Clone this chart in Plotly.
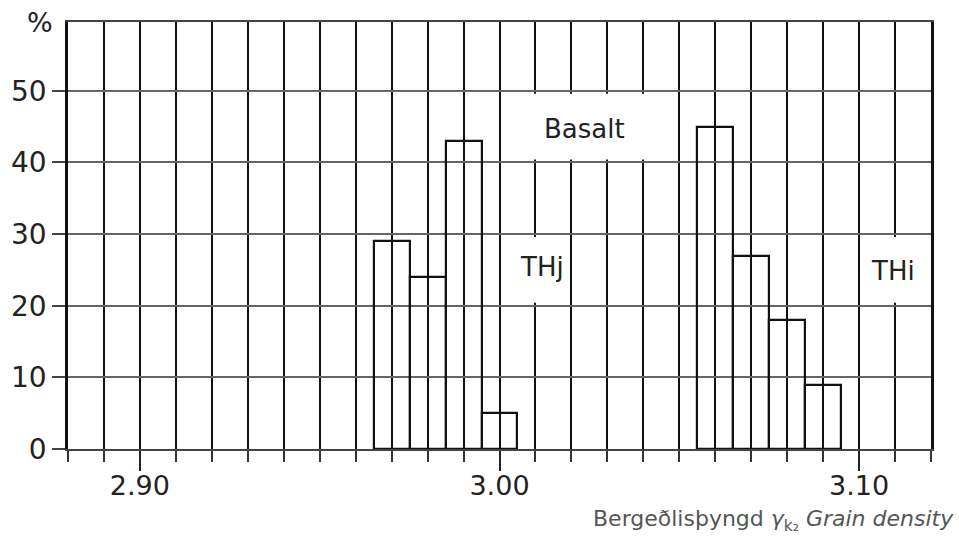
import plotly.graph_objects as go

# Data
thj_x = [2.97, 2.98, 2.99, 3.00]
thj_pct = [29, 24, 43, 5]
thi_x = [3.06, 3.07, 3.08, 3.09]
thi_pct = [45, 27, 18, 9]
bin_width = 0.01

x_tickvals = [2.90, 3.00, 3.10]
x_ticktext = ["2.90", "3.00", "3.10"]
y_tickvals = [0, 10, 20, 30, 40, 50]
y_ticktext = ["0", "10", "20", "30", "40", "50"]

labels = ["Basalt", "THj", "THi"]
label_x = [3.0235, 3.0119, 3.1094]
label_y = [44.6, 25.4, 24.8]
# label boxes (white cut-outs in the grid): x0, x1, y0, y1
label_boxes = [(3.00, 3.05, 40, 50), (3.00, 3.02, 20, 30), (3.10, 3.12, 20, 30)]

FONT = "DejaVu Sans"

fig = go.Figure()
for xs, ys, name in [(thj_x, thj_pct, "THj"), (thi_x, thi_pct, "THi")]:
    fig.add_trace(go.Bar(
        x=xs, y=ys, width=[bin_width] * len(xs), name=name,
        marker=dict(color="rgba(0,0,0,0)", line=dict(color="#111", width=2.2)),
        showlegend=False, hoverinfo="x+y",
    ))

ex, ey = 0.0009, 0.4
for (x0, x1, y0, y1) in label_boxes:
    fig.add_shape(type="rect", xref="x", yref="y", x0=x0 + ex, x1=x1 - ex,
                  y0=y0 + ey, y1=y1 - ey, fillcolor="white",
                  line=dict(width=0), layer="above")

for t, lx, ly in zip(labels, label_x, label_y):
    fig.add_annotation(x=lx, y=ly, xref="x", yref="y", text=t, showarrow=False,
                       font=dict(family=FONT, size=26, color="#222"))

fig.add_annotation(x=-28 / 863, y=0.998, xref="paper", yref="paper", text="%",
                   showarrow=False, xanchor="center", yanchor="middle",
                   font=dict(family=FONT, size=27, color="#222"))

fig.add_annotation(x=1.0 + 25 / 863, y=-0.168, xref="paper", yref="paper",
                   text="Bergeðlisþyngd <i>γ</i><sub>k₂</sub> <i>Grain density</i>",
                   showarrow=False, xanchor="right", yanchor="middle",
                   font=dict(family=FONT, size=22, color="#555"))

fig.update_layout(
    width=959, height=554,
    margin=dict(l=68, r=28, t=22, b=105),
    paper_bgcolor="white", plot_bgcolor="white",
    bargap=0,
    xaxis=dict(
        range=[2.88, 3.12], tickvals=x_tickvals, ticktext=x_ticktext,
        ticks="outside", ticklen=20, tickwidth=2, tickcolor="#222",
        ticklabelstandoff=-8,
        showgrid=True, gridcolor="#111", gridwidth=2,
        minor=dict(dtick=0.01, tick0=2.88, ticks="outside", ticklen=11,
                   tickwidth=1.5, tickcolor="#333", showgrid=True,
                   gridcolor="#111", gridwidth=2),
        showline=True, linecolor="#444", linewidth=2, mirror=True,
        zeroline=False,
        tickfont=dict(family=FONT, size=27, color="#222"),
    ),
    yaxis=dict(
        range=[0, 59.6], tickvals=y_tickvals, ticktext=y_ticktext,
        ticks="outside", ticklen=13, tickwidth=1.5, tickcolor="#444",
        showgrid=True, gridcolor="#666", gridwidth=1.5,
        showline=True, linecolor="#111", linewidth=2.5, mirror=True,
        zeroline=False,
        tickfont=dict(family=FONT, size=28, color="#222"),
    ),
)

fig.write_html("out.html")
